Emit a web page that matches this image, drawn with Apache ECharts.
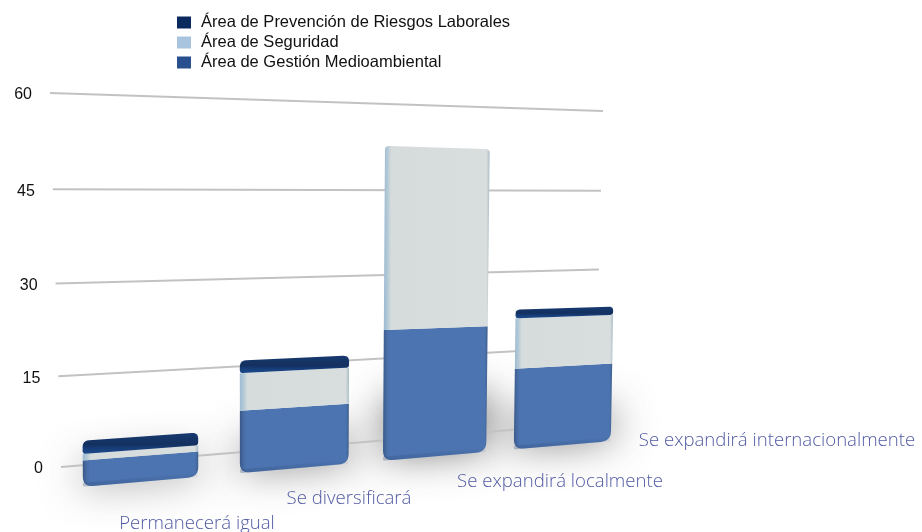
<!DOCTYPE html>
<html><head><meta charset="utf-8">
<style>html,body{margin:0;padding:0;background:#fff}#c{width:922px;height:532px}</style>
<script src="https://cdn.jsdelivr.net/npm/echarts@6/dist/echarts.min.js"></script>
</head><body><div id="c"></div>
<script>
// ---- data ----
const categories = ['Permanecerá igual','Se diversificará','Se expandirá localmente','Se expandirá internacionalmente'];
const gestion    = [4, 10, 22, 14.3];
const seguridad  = [1, 6, 30.5, 8.9];
const prevencion = [2, 2, 0, 1.5];
const yTicks = [0, 15, 30, 45, 60];
const seriesNames = ['Área de Prevención de Riesgos Laborales','Área de Seguridad','Área de Gestión Medioambiental'];

// ---- layout ----
const W = 922, H = 532;
const GRID = {left: 100, top: 100, width: 600, height: 300};
const FRONT_PLANE = [[57,489],[623,440],[629,112],[53,84]];   // bl, br, tr, tl
const BACK_PLANE  = [[61,467],[595,423],[603,111],[50,93]];
const BAR_FRACTION = [0.70, 0.735, 0.775, 0.805];
const BAR_SHIFT = [0, -0.004, -0.004, -0.002];
const LABEL_POS = [[197,524],[349,499],[560,482],[777,441]];

function homography(q){
  const [[x0,y0],[x1,y1],[x2,y2],[x3,y3]] = q;
  const dx1=x1-x2, dx2=x3-x2, sx=x0-x1+x2-x3;
  const dy1=y1-y2, dy2=y3-y2, sy=y0-y1+y2-y3;
  const den=dx1*dy2-dx2*dy1;
  const g=(sx*dy2-dx2*sy)/den, h=(dx1*sy-sx*dy1)/den;
  const a=x1-x0+g*x1, b=x3-x0+h*x3, d=y1-y0+g*y1, e=y3-y0+h*y3;
  return (u,v)=>{const w=g*u+h*v+1;return [(a*u+b*v+x0)/w,(d*u+e*v+y0)/w];};
}
const front = homography(FRONT_PLANE), back = homography(BACK_PLANE);
const toUV = p => [(p[0]-GRID.left)/GRID.width, (GRID.top+GRID.height-p[1])/GRID.height];
function project(plane, api, cat, val, du){
  const uv = toUV(api.coord([cat,val]));
  return plane(uv[0]+(du||0), uv[1]);
}
function roundedPoly(c, rTop, rBot){ // c: bl, br, tr, tl
  const out=[];
  const radii=[rBot,rBot,rTop,rTop];
  for(let i=0;i<4;i++){
    const p=c[i], prev=c[(i+3)%4], next=c[(i+1)%4], r=radii[i];
    if(!r){out.push(p);continue;}
    const dp=Math.hypot(prev[0]-p[0],prev[1]-p[1]), dn=Math.hypot(next[0]-p[0],next[1]-p[1]);
    const rr=Math.min(r,dp/2,dn/2);
    const a=[p[0]+(prev[0]-p[0])*rr/dp,p[1]+(prev[1]-p[1])*rr/dp];
    const b=[p[0]+(next[0]-p[0])*rr/dn,p[1]+(next[1]-p[1])*rr/dn];
    for(let t=0;t<=6;t++){const s=t/6,m=1-s;
      out.push([m*m*a[0]+2*m*s*p[0]+s*s*b[0],m*m*a[1]+2*m*s*p[1]+s*s*b[1]]);}
  }
  return out;
}
const hGrad = stops => ({type:'linear',x:0,y:0,x2:1,y2:0,colorStops:stops.map(s=>({offset:s[0],color:s[1]}))});
const vGrad = stops => ({type:'linear',x:0,y:0,x2:0,y2:1,colorStops:stops.map(s=>({offset:s[0],color:s[1]}))});

const FILL = {
  gestion: hGrad([[0,'#385887'],[0.03,'#466aa2'],[0.06,'#4c74b0'],[0.97,'#4c74b0'],[1,'#40618f']]),
  seguridad: hGrad([[0,'#9dbbd2'],[0.035,'#b3c9d6'],[0.07,'#d6dcdc'],[0.97,'#d8dede'],[1,'#a9bcc6']]),
  prevencion: vGrad([[0,'#173a70'],[0.55,'#13305f'],[0.78,'#173f7c'],[1,'#1c4a8a']])
};
function halfWidth(api,cat){
  return (api.size([1,0])[0]/GRID.width)*BAR_FRACTION[cat]/2;
}
function barItem(kind, rTop, rBot, strip){
  return (params, api)=>{
    const cat=api.value(0), v0=api.value(1), v1=api.value(2);
    if(v1-v0<=0) return null;
    const du=halfWidth(api,cat), s=BAR_SHIFT[cat];
    const c=[project(front,api,cat,v0,s-du),project(front,api,cat,v0,s+du),project(front,api,cat,v1,s+du),project(front,api,cat,v1,s-du)];
    const top = api.value(3)===1;
    const pts=roundedPoly(c, top?rTop:0, rBot);
    const children=[{type:'polygon',shape:{points:pts},style:{fill:FILL[kind]}}];
    if(strip){
      const lift=4, e0=c[0], e1=c[1];
      const band=roundedPoly([e0,e1,[e1[0],e1[1]-lift],[e0[0],e0[1]-lift]],0,rBot);
      children.push({type:'polygon',shape:{points:band},style:{fill:vGrad([[0,'rgba(40,65,110,0)'],[1,'rgba(40,65,110,0.3)']])}});
    }
    return {type:'group',children};
  };
}
function stackData(layer){
  const lower = layer===0 ? gestion.map(()=>0) : layer===1 ? gestion : gestion.map((g,i)=>g+seguridad[i]);
  const vals = [gestion,seguridad,prevencion][layer];
  return vals.map((v,i)=>{
    const isTop = layer===2 || (layer===1 && prevencion[i]===0);
    return [i,lower[i],lower[i]+v,isTop?1:0];
  });
}
const OFF = 3000;
const option = {
  animation:false,
  backgroundColor:'#fff',
  grid:{left:GRID.left,top:GRID.top,width:GRID.width,height:GRID.height,show:false},
  xAxis:{type:'category',data:categories,show:false},
  yAxis:{type:'value',min:0,max:60,interval:15,show:false},
  legend:{
    orient:'vertical',left:172,top:9,itemWidth:14,itemHeight:12,itemGap:3,icon:'rect',
    data:seriesNames,selectedMode:false,
    textStyle:{fontFamily:'Liberation Sans',fontSize:16.5,lineHeight:12,color:'#111',padding:[0,0,0,5]}
  },
  series:[
    {type:'custom',name:'floorShadow',z:1,silent:true,clip:false,
     data:categories.map((c,i)=>[i,gestion[i]+seguridad[i]+prevencion[i]]),encode:{x:0,y:1},
     renderItem:(p,api)=>{
       const cat=api.value(0), total=api.value(1);
       const du=halfWidth(api,cat);
       const hi=2+total*0.16;
       const pts=[project(front,api,cat,0.6,-du),project(front,api,cat,0.6,du),project(front,api,cat,hi,du),project(front,api,cat,hi,-du)]
         .map(q=>[q[0]-OFF,q[1]]);
       return {type:'polygon',shape:{points:pts},style:{fill:'#000',shadowBlur:40,shadowColor:'rgba(60,60,60,0.7)',shadowOffsetX:OFF,shadowOffsetY:0}};
     }},
    {type:'custom',name:'grid',z:2,silent:true,clip:false,
     data:yTicks.map(t=>[0,t]),encode:{x:0,y:1},
     renderItem:(p,api)=>{
       const t=api.value(1);
       const v=toUV(api.coord([0,t]))[1];
       const a=back(0,v), b=back(1,v);
       return {type:'group',children:[
         {type:'line',shape:{x1:a[0],y1:a[1],x2:b[0],y2:b[1]},style:{stroke:'#c2c2c2',lineWidth:2}},
         {type:'text',x:a[0]-18,y:a[1]+2,style:{text:String(t),textAlign:'right',textVerticalAlign:'middle',font:'16px "Liberation Sans"',fill:'#111'}}
       ]};
     }},
    {type:'custom',name:seriesNames[2],z:5,clip:false,itemStyle:{color:'#2a4f8f'},
     data:stackData(0),encode:{x:0,y:2},renderItem:barItem('gestion',0,10,true)},
    {type:'custom',name:seriesNames[1],z:6,clip:false,itemStyle:{color:'#a9c4de'},
     data:stackData(1),encode:{x:0,y:2},renderItem:barItem('seguridad',4,0,false)},
    {type:'custom',name:seriesNames[0],z:7,clip:false,itemStyle:{color:'#0a2a5e'},
     data:stackData(2),encode:{x:0,y:2},renderItem:barItem('prevencion',7,3,false)},
    {type:'custom',name:'catLabels',z:8,silent:true,clip:false,
     data:categories.map((c,i)=>[i]),encode:{x:0,y:-1},
     renderItem:(p,api)=>{
       const i=api.value(0);
       return {type:'text',x:LABEL_POS[i][0],y:LABEL_POS[i][1],style:{text:categories[i],textAlign:'center',textVerticalAlign:'middle',font:'300 18.6px "Open Sans"',fill:'#515aa2'}};
     }}
  ]
};
const chart=echarts.init(document.getElementById('c'),null,{renderer:'canvas',width:W,height:H});
chart.setOption(option);
</script></body></html>
